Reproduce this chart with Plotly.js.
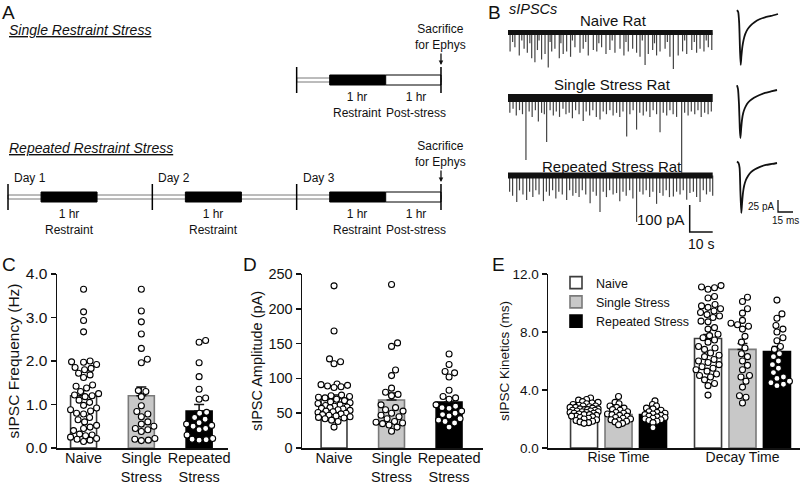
<!DOCTYPE html>
<html><head><meta charset="utf-8">
<script src="https://cdn.plot.ly/plotly-3.0.1.min.js"></script>
<style>html,body{margin:0;padding:0;background:#fff}#chart{width:800px;height:486px}</style>
</head><body><div id="chart"></div>
<script>
// ================= DATA =================
const groups = ['Naive', 'Single Stress', 'Repeated Stress'];
const groupTicks = ['Naive', 'Single<br>Stress', 'Repeated<br>Stress'];
const kineticsTicks = ['Rise Time', 'Decay Time'];

// C: sIPSC frequency (Hz), one value per cell
const freqNaive = [3.65, 3.13, 2.93, 2.67, 2.0, 1.98, 1.97, 1.92, 1.85, 1.83, 1.8, 1.72, 1.68, 1.62, 1.45, 1.42, 1.38, 1.3, 1.25, 1.22, 1.2, 1.18, 1.1, 1.05, 0.98, 0.92, 0.88, 0.85, 0.8, 0.78, 0.7, 0.65, 0.6, 0.52, 0.48, 0.45, 0.4, 0.32, 0.3, 0.28, 0.25, 0.22, 0.2, 0.18, 0.15];
const freqSingle = [3.65, 3.15, 2.9, 2.62, 2.29, 2.04, 1.96, 1.32, 1.3, 1.18, 0.97, 0.84, 0.78, 0.72, 0.6, 0.55, 0.5, 0.45, 0.42, 0.38, 0.22, 0.2, 0.18, 0.17];
const freqRepeat = [2.47, 2.43, 1.96, 1.64, 1.35, 1.15, 1.12, 0.82, 0.8, 0.7, 0.66, 0.58, 0.55, 0.52, 0.5, 0.45, 0.42, 0.3, 0.22, 0.2, 0.19, 0.18];
const freqMean = [1.2, 1.2, 0.85];
const freqSem = [0.12, 0.2, 0.15];

// D: sIPSC amplitude (pA)
const ampNaive = [233, 168, 128, 124, 121, 92, 91, 90, 89, 88, 87, 76, 75, 74, 73, 72, 70, 68, 66, 65, 64, 62, 61, 60, 59, 58, 57, 56, 55, 54, 53, 52, 51, 50, 49, 48, 47, 46, 45, 44, 43, 42, 40, 38, 30];
const ampSingle = [235, 151, 146, 112, 104, 86, 80, 77, 75, 62, 58, 55, 53, 50, 47, 45, 42, 38, 37, 36, 35, 33, 30, 24];
const ampRepeat = [135, 120, 110, 108, 102, 83, 74, 72, 70, 62, 60, 58, 57, 53, 50, 48, 46, 42, 40, 38, 36, 30];
const ampMean = [71, 69, 66];
const ampSem = [5, 10, 6];

// E: sIPSC kinetics (ms)
const riseNaive = [3.45, 3.35, 3.3, 3.2, 3.15, 3.1, 3.05, 3.0, 2.95, 2.9, 2.9, 2.85, 2.8, 2.8, 2.75, 2.7, 2.7, 2.65, 2.65, 2.6, 2.6, 2.55, 2.55, 2.5, 2.5, 2.45, 2.45, 2.4, 2.4, 2.35, 2.3, 2.3, 2.25, 2.2, 2.2, 2.15, 2.1, 2.05, 2.0, 1.95, 1.9, 1.85, 1.8, 1.75, 1.7];
const riseSingle = [3.55, 3.15, 3.05, 2.9, 2.8, 2.75, 2.65, 2.6, 2.5, 2.45, 2.4, 2.35, 2.3, 2.25, 2.2, 2.1, 2.05, 2.0, 1.95, 1.9, 1.85, 1.8, 1.7, 1.6];
const riseRepeat = [3.25, 3.0, 2.9, 2.75, 2.7, 2.6, 2.5, 2.45, 2.4, 2.35, 2.3, 2.25, 2.2, 2.15, 2.1, 2.05, 2.0, 1.95, 1.9, 1.85, 1.75, 1.4];
const decayNaive = [11.2, 11.1, 11.05, 10.95, 10.45, 10.35, 9.9, 9.8, 9.7, 9.6, 9.45, 9.35, 9.2, 9.1, 9.0, 8.75, 8.7, 8.3, 8.2, 7.85, 7.75, 7.6, 7.45, 7.3, 7.0, 6.9, 6.8, 6.55, 6.4, 6.3, 6.1, 6.0, 5.9, 5.75, 5.6, 5.5, 5.4, 5.3, 5.1, 5.0, 4.9, 4.7, 4.45, 4.3, 3.65];
const decaySingle = [10.4, 10.1, 9.6, 9.3, 8.8, 8.6, 8.5, 8.4, 8.2, 7.7, 7.3, 6.9, 6.5, 6.3, 6.0, 5.7, 5.4, 5.0, 4.9, 4.6, 4.2, 3.6, 3.5, 3.1];
const decayRepeat = [10.2, 9.25, 8.95, 8.45, 8.2, 8.0, 7.6, 7.4, 7.0, 6.8, 6.5, 6.3, 6.0, 5.75, 5.5, 5.2, 4.9, 4.8, 4.6, 4.5, 4.4, 4.3];
const riseMean = [2.6, 2.3, 2.3];
const riseSem = [0.08, 0.1, 0.1];
const decayMean = [7.55, 6.8, 6.65];
const decaySem = [0.28, 0.4, 0.35];

// A: protocol schematic (in day slots)
const dayLabels = ['Day 1', 'Day 2', 'Day 3'];
const repeatedDays = [0, 1, 2];
const singleDays = [2];
const restraintWindow = [0.229, 0.617];
const postWindow = [0.617, 1.0];
const protocolEnd = 3;

// B: raw sIPSC traces (event time s, amplitude pA)
const recordSec = 89;
const naiveT = [0.9, 2.0, 3.0, 4.9, 6.0, 7.0, 8.4, 9.5, 10.3, 11.7, 12.8, 13.5, 14.6, 16.1, 17.5, 18.3, 19.0, 20.4, 22.3, 23.0, 24.0, 25.5, 27.2, 28.0, 29.1, 31.3, 32.7, 33.8, 34.9, 37.1, 38.6, 39.5, 40.7, 42.6, 44.3, 45.3, 46.5, 48.7, 50.4, 51.3, 52.3, 54.2, 55.9, 57.4, 58.4, 59.6, 61.0, 62.9, 63.7, 64.6, 66.1, 68.3, 69.3, 70.4, 71.9, 74.0, 75.9, 76.8, 77.7, 79.9, 81.0, 82.0, 83.5, 85.2, 86.2, 87.1, 88.6];
const naiveA = [70, 35, 55, 85, 30, 60, 75, 40, 95, 110, 65, 30, 100, 80, 130, 35, 70, 60, 95, 40, 80, 70, 90, 30, 55, 75, 60, 35, 85, 65, 70, 40, 55, 80, 65, 30, 75, 60, 85, 35, 70, 60, 75, 90, 30, 120, 80, 65, 40, 85, 70, 60, 35, 90, 135, 85, 70, 30, 80, 65, 35, 75, 60, 70, 30, 55, 65];
const singleT = [0.8, 2.2, 3.6, 5, 6.3, 7.8, 9.2, 10.5, 11.9, 13.2, 14.6, 15.8, 16.8, 18.3, 19.7, 21, 22.4, 23.9, 25.2, 26.6, 28, 29.4, 30.9, 32.7, 34, 35.5, 36.9, 38.4, 40, 41.4, 42.8, 44.3, 45.7, 47.2, 48.6, 50, 51.6, 53, 54.4, 55.9, 57.3, 58.8, 60.2, 61.7, 63.1, 64.6, 66.1, 67.5, 69, 70.4, 71.8, 73.3, 75.5, 76.8, 78.3, 79.7, 81.2, 82.6, 84, 85.5, 87, 88.4];
const singleA = [55, 40, 65, 45, 60, 230, 50, 70, 45, 87, 55, 60, 163, 45, 65, 50, 70, 40, 60, 55, 75, 45, 60, 85, 50, 65, 45, 70, 80, 50, 60, 45, 65, 55, 70, 50, 143, 60, 45, 117, 55, 65, 50, 70, 45, 60, 127, 55, 65, 45, 60, 70, 277, 55, 65, 50, 60, 45, 70, 55, 60, 50];
const repeatT = [0.7, 2.0, 3.8, 5.0, 6.5, 8.1, 9.4, 10.8, 12.1, 13.5, 15.4, 16.7, 18.0, 19.4, 20.8, 22.1, 23.6, 25.5, 26.8, 28.2, 29.5, 30.9, 32.3, 33.8, 35.7, 37.0, 38.4, 40.0, 41.4, 42.8, 44.2, 45.7, 47.2, 48.6, 50.0, 51.4, 52.9, 54.3, 55.9, 57.3, 58.7, 60.1, 61.6, 63.0, 64.6, 66.0, 67.4, 68.8, 70.2, 71.9, 73.3, 74.8, 76.2, 77.7, 79.1, 80.6, 82.0, 83.5, 84.9, 86.3, 87.8, 89.0];
const repeatA = [60, 75, 98, 55, 70, 91, 60, 80, 55, 70, 95, 60, 75, 55, 85, 60, 70, 91, 55, 75, 65, 80, 55, 70, 103, 60, 75, 135, 60, 80, 55, 70, 65, 95, 60, 75, 55, 85, 172, 60, 70, 55, 80, 60, 105, 65, 75, 55, 80, 78, 60, 70, 55, 90, 65, 60, 80, 98, 55, 70, 60, 75];

// B: averaged sIPSC waveforms (ms, pA)
const naiveWaveT = [0, 1.2, 2.2, 3.0, 3.7, 4.4, 5.4, 6.6, 8.2, 10.5, 13.5, 17.5, 22.5, 28, 34, 41];
const naiveWaveI = [8, 4, -20, -75, -106, -88, -68, -54, -42, -32, -24, -17, -11, -7, -4, 0];
const singleWaveT = [0, 1.0, 2.0, 2.8, 3.4, 4.1, 5.0, 6.2, 7.8, 10, 13, 17, 22, 28, 34, 40];
const singleWaveI = [10, 2, -30, -80, -100, -82, -62, -48, -38, -29, -22, -16, -11, -6, -3, 0];
const repeatWaveT = [0, 1.5, 2.6, 3.4, 4.3, 5.0, 6.0, 7.2, 8.8, 11, 14, 18, 23, 29, 35, 40];
const repeatWaveI = [3, 0, -10, -60, -104, -85, -62, -47, -36, -27, -19, -13, -8, -4, -2, 0];

// scale bars
const rawBarPA = 100, rawBarSec = 10;
const avgBarPA = 25, avgBarMs = 15;

// ================= LAYOUT GEOMETRY =================
const W = 800, H = 486;
const fx = p => p / W;
const fy = p => 1 - p / H;
const FONT = 'Liberation Sans, Arial, Helvetica, sans-serif';
const INK = '#111111';
const barFill = ['#ffffff', '#c8c8c8', '#000000'];
const barLine = ['#3c3c3c', '#7a7a7a', '#000000'];

const pxPerDay = 144.33, rowPx = 117;
const rowY = (row, px) => row + px / rowPx;
const rawPxS = 2.3, rawPxPA = 0.27;
const rawBase = px => -px / rawPxPA;
const rawBases = [rawBase(32.5), rawBase(98), rawBase(175.5)];
const avgPxPA = 0.48;
const avgBase = px => -px / avgPxPA;
const avgBases = [avgBase(14), avgBase(90), avgBase(163)];

// beeswarm (deterministic) offsets in axis units
function swarm(values, yScale, xScale, diam, maxOff) {
  const order = values.map((v, i) => i).sort((a, b) => values[a] - values[b]);
  const placed = [];
  const offs = new Array(values.length).fill(0);
  for (const i of order) {
    const yp = values[i] * yScale;
    let chosen = null, best = 0, bestScore = -1;
    for (let k = 0; k <= maxOff * 4; k++) {
      const c = (k % 2 ? 1 : -1) * Math.ceil(k / 2) * 0.5;
      if (Math.abs(c) > maxOff) break;
      let md = Infinity;
      for (const p of placed) {
        const d = Math.hypot(p[0] - c, p[1] - yp);
        if (d < md) md = d;
      }
      if (md >= diam) { chosen = c; break; }
      if (md > bestScore) { bestScore = md; best = c; }
    }
    if (chosen === null) chosen = best;
    placed.push([chosen, yp]);
    offs[i] = chosen / xScale;
  }
  return offs;
}

const traces = [];
const markerStyle = { symbol: 'circle', size: 6, color: '#ffffff', line: { color: '#000000', width: 1.1 } };

function addPoints(pts, pos, xa, ya, yScale, xScale, diam, maxOff) {
  const off = swarm(pts, yScale, xScale, diam, maxOff);
  traces.push({
    type: 'scatter', mode: 'markers', xaxis: xa, yaxis: ya,
    x: pts.map((v, i) => pos + off[i]), y: pts,
    marker: markerStyle, showlegend: false, hoverinfo: 'skip', cliponaxis: false
  });
}

function errY(sems) {
  return { type: 'data', symmetric: false, array: sems, arrayminus: sems.map(() => 0),
           color: INK, thickness: 1.5, width: 5 };
}

[[freqMean, freqSem, 'x', 'y'], [ampMean, ampSem, 'x2', 'y2']].forEach(([m, s, xa, ya]) => {
  groups.forEach((g, gi) => {
    traces.push({
      type: 'bar', xaxis: xa, yaxis: ya, x: [gi], y: [m[gi]], width: 0.45, name: g,
      marker: { color: barFill[gi], line: { color: barLine[gi], width: 1.6 } },
      error_y: errY([s[gi]]), showlegend: false, hoverinfo: 'skip'
    });
  });
});
const eOff = [-0.278, 0, 0.278];
groups.forEach((g, gi) => {
  traces.push({
    type: 'bar', xaxis: 'x3', yaxis: 'y3', x: [0 + eOff[gi], 1 + eOff[gi]],
    y: [riseMean[gi], decayMean[gi]], width: 0.218, name: g,
    marker: { color: barFill[gi], line: { color: barLine[gi], width: 1.6 } },
    error_y: errY([riseSem[gi], decaySem[gi]]), showlegend: true, hoverinfo: 'skip'
  });
});

[freqNaive, freqSingle, freqRepeat].forEach((p, gi) => addPoints(p, gi, 'x', 'y', 43.5, 57.7, 6.6, 16));
[ampNaive, ampSingle, ampRepeat].forEach((p, gi) => addPoints(p, gi, 'x2', 'y2', 0.696, 57.5, 6.6, 16));
[riseNaive, riseSingle, riseRepeat].forEach((p, gi) => addPoints(p, 0 + eOff[gi], 'x3', 'y3', 14.5, 124, 4.2, 14));
[decayNaive, decaySingle, decayRepeat].forEach((p, gi) => addPoints(p, 1 + eOff[gi], 'x3', 'y3', 14.5, 124, 6.6, 17));

// B raw traces
[[naiveT, naiveA], [singleT, singleA], [repeatT, repeatA]].forEach(([t, a], k) => {
  const base = rawBases[k];
  const sx = [], sy = [];
  t.forEach((v, i) => { sx.push(v, v, null); sy.push(base, base - a[i], null); });
  traces.push({ type: 'scatter', mode: 'lines', xaxis: 'x5', yaxis: 'y5', x: sx, y: sy,
    line: { color: '#444444', width: 1.2 }, showlegend: false, hoverinfo: 'skip' });
  traces.push({ type: 'scatter', mode: 'lines', xaxis: 'x5', yaxis: 'y5',
    x: [0, recordSec], y: [base, base],
    line: { color: '#111111', width: [5, 8, 6][k] }, showlegend: false, hoverinfo: 'skip' });
});
const sbX = recordSec - rawBarSec, sbY = rawBase(232);
traces.push({ type: 'scatter', mode: 'lines', xaxis: 'x5', yaxis: 'y5',
  x: [sbX, sbX, sbX + rawBarSec], y: [sbY + rawBarPA, sbY, sbY],
  line: { color: INK, width: 1.5 }, showlegend: false, hoverinfo: 'skip' });

[[naiveWaveT, naiveWaveI], [singleWaveT, singleWaveI], [repeatWaveT, repeatWaveI]].forEach(([t, v], k) => {
  traces.push({ type: 'scatter', mode: 'lines', xaxis: 'x6', yaxis: 'y6', x: t,
    y: v.map(q => q + avgBases[k]), line: { color: '#111111', width: 1.8, shape: 'spline', smoothing: 0.6 },
    showlegend: false, hoverinfo: 'skip' });
});
const abX = 41, abY = avgBase(212);
traces.push({ type: 'scatter', mode: 'lines', xaxis: 'x6', yaxis: 'y6',
  x: [abX, abX, abX + avgBarMs], y: [abY + avgBarPA, abY, abY],
  line: { color: INK, width: 1.3 }, showlegend: false, hoverinfo: 'skip' });

// ================= SHAPES (panel A) =================
const shapes = [];
function rail(d0, d1, row) {
  shapes.push({ type: 'rect', xref: 'x4', yref: 'y4', x0: d0, x1: d1, y0: rowY(row, -2), y1: rowY(row, 2),
    fillcolor: '#ffffff', line: { color: '#555555', width: 0.8 } });
}
function block(d0, d1, row, fill) {
  shapes.push({ type: 'rect', xref: 'x4', yref: 'y4', x0: d0, x1: d1, y0: rowY(row, -5), y1: rowY(row, 5),
    fillcolor: fill, line: { color: '#000000', width: 1 } });
}
function tick(d, row) {
  shapes.push({ type: 'line', xref: 'x4', yref: 'y4', x0: d, x1: d, y0: rowY(row, -13), y1: rowY(row, 13),
    line: { color: '#000000', width: 1.5 } });
}
rail(singleDays[0], protocolEnd, 1);
singleDays.forEach(d => block(d + restraintWindow[0], d + restraintWindow[1], 1, '#000000'));
block(protocolEnd - 1 + postWindow[0], protocolEnd - 1 + postWindow[1], 1, '#ffffff');
tick(singleDays[0], 1); tick(protocolEnd, 1);
rail(repeatedDays[0], protocolEnd, 2);
repeatedDays.forEach(d => block(d + restraintWindow[0], d + restraintWindow[1], 2, '#000000'));
block(protocolEnd - 1 + postWindow[0], protocolEnd - 1 + postWindow[1], 2, '#ffffff');
repeatedDays.forEach(d => tick(d, 2)); tick(protocolEnd, 2);

// ================= ANNOTATIONS =================
const ann = [];
const txt = (o) => ann.push(Object.assign({ showarrow: false, font: { family: FONT, size: 12, color: INK } }, o));
[['A', 8, 0], ['B', 494, 0], ['C', 9, 252], ['D', 250, 252], ['E', 498, 252]].forEach(([l, x, y]) =>
  txt({ text: l, xref: 'paper', yref: 'paper', x: fx(x), y: fy(y), xanchor: 'center', yanchor: 'top',
        font: { family: FONT, size: 19, color: INK } }));
[['Single Restraint Stress', 30], ['Repeated Restraint Stress', 148]].forEach(([t, y]) =>
  txt({ text: '<i>' + t + '</i>', xref: 'paper', yref: 'paper', x: fx(7), y: fy(y), xanchor: 'left', yanchor: 'middle',
        font: { family: FONT, size: 14, color: INK, lineposition: 'under' } }));
const restraintMid = (restraintWindow[0] + restraintWindow[1]) / 2;
const postMid = (postWindow[0] + postWindow[1]) / 2;
singleDays.forEach(d => txt({ text: '1 hr<br>Restraint', xref: 'x4', yref: 'y4', x: d + restraintMid, y: 1,
  yanchor: 'top', yshift: -8 }));
repeatedDays.forEach(d => txt({ text: '1 hr<br>Restraint', xref: 'x4', yref: 'y4', x: d + restraintMid, y: 2,
  yanchor: 'top', yshift: -8 }));
[1, 2].forEach(r => txt({ text: '1 hr<br>Post-stress', xref: 'x4', yref: 'y4', x: protocolEnd - 1 + postMid + 0.02, y: r,
  yanchor: 'top', yshift: -8 }));
repeatedDays.forEach((d, i) => txt({ text: dayLabels[i], xref: 'x4', yref: 'y4', x: d, y: 2, xanchor: 'left',
  yanchor: 'bottom', xshift: 4, yshift: 10 }));
[1, 2].forEach(r => ann.push({ text: 'Sacrifice<br>for Ephys', xref: 'x4', yref: 'y4', x: protocolEnd, y: r,
  yshift: 15, showarrow: true, ax: 0, ay: -28, arrowhead: 2, arrowsize: 0.7, arrowwidth: 1.3, arrowcolor: INK,
  font: { family: FONT, size: 12, color: INK } }));
txt({ text: '<i>sIPSCs</i>', xref: 'paper', yref: 'paper', x: fx(507), y: fy(9), xanchor: 'left', yanchor: 'middle',
      font: { family: FONT, size: 14.5, color: INK } });
[['Naive Rat', 613, 20], ['Single Stress Rat', 612, 84], ['Repeated Stress Rat', 612, 166]].forEach(([t, x, y]) =>
  txt({ text: t, xref: 'paper', yref: 'paper', x: fx(x), y: fy(y), xanchor: 'center', yanchor: 'middle',
        font: { family: FONT, size: 15, color: INK } }));
txt({ text: rawBarPA + ' pA', xref: 'x5', yref: 'y5', x: sbX, y: sbY + rawBarPA * 0.45, xanchor: 'right', xshift: -3,
      yanchor: 'middle', font: { family: FONT, size: 15, color: INK } });
txt({ text: rawBarSec + ' s', xref: 'x5', yref: 'y5', x: sbX + rawBarSec / 2, y: sbY, yanchor: 'top', yshift: -2,
      font: { family: FONT, size: 14, color: INK } });
txt({ text: avgBarPA + ' pA', xref: 'x6', yref: 'y6', x: abX, y: abY + avgBarPA * 0.45, xanchor: 'right', xshift: -2,
      yanchor: 'middle', font: { family: FONT, size: 10, color: INK } });
txt({ text: avgBarMs + ' ms', xref: 'x6', yref: 'y6', x: abX + avgBarMs / 2, y: abY, yanchor: 'top', yshift: -1,
      font: { family: FONT, size: 10, color: INK } });

// ================= AXES =================
function xAx(l, r, range, tickvals, ticktext, size, anchor) {
  return { domain: [fx(l), fx(r)], range, anchor, tickvals, ticktext, ticks: '', showline: true,
    linecolor: INK, linewidth: 1.5, showgrid: false, zeroline: false, fixedrange: true,
    ticklabelstandoff: -4,
    tickfont: { family: FONT, size, color: INK } };
}
function yAx(range, dtick, fmt, size, title, tsize, standoff, anchor) {
  return { domain: [fy(448), fy(274)], range, dtick, tick0: 0, tickformat: fmt, anchor,
    showline: true, linecolor: INK, linewidth: 1.5, ticks: 'outside', ticklen: 5, tickwidth: 1.5,
    tickcolor: INK, showgrid: false, zeroline: false, fixedrange: true,
    tickfont: { family: FONT, size, color: INK },
    title: { text: title, standoff, font: { family: FONT, size: tsize, color: INK } } };
}
const hidden = (dom, range) => ({ domain: dom, range, visible: false, showgrid: false, zeroline: false, fixedrange: true });

const layout = {
  width: W, height: H, margin: { l: 0, r: 0, t: 0, b: 0 },
  paper_bgcolor: '#ffffff', plot_bgcolor: 'rgba(0,0,0,0)',
  barmode: 'overlay', font: { family: FONT, color: INK },
  xaxis: xAx(57, 228, [-0.46, 2.5], [0, 1, 2], groupTicks, 14.5, 'y'),
  yaxis: yAx([0, 4], 1, '.1f', 15.5, 'sIPSC Frequency (Hz)', 15.5, 2, 'x'),
  xaxis2: xAx(302, 483, [-0.557, 2.59], [0, 1, 2], groupTicks, 14.5, 'y2'),
  yaxis2: yAx([0, 250], 50, 'd', 14.5, 'sIPSC Amplitude (pA)', 14.5, 2, 'x2'),
  xaxis3: xAx(548, 800, [-0.569, 1.464], [0, 1], kineticsTicks, 14, 'y3'),
  yaxis3: yAx([0, 12], 4, '.1f', 13.5, 'sIPSC Kinetics (ms)', 13.5, 0, 'x3'),
  xaxis4: Object.assign(hidden([fx(0), fx(470)], [-8 / pxPerDay, (470 - 8) / pxPerDay]), { anchor: 'y4' }),
  yaxis4: Object.assign(hidden([fy(240), fy(0)], [1 + 160 / rowPx, 1 - 80 / rowPx]), { anchor: 'x4' }),
  xaxis5: Object.assign(hidden([fx(500), fx(725)], [-8 / rawPxS, 217 / rawPxS]), { anchor: 'y5' }),
  yaxis5: Object.assign(hidden([fy(245), fy(0)], [-245 / rawPxPA, 0]), { anchor: 'x5' }),
  xaxis6: Object.assign(hidden([fx(727), fx(800)], [-10, 63]), { anchor: 'y6' }),
  yaxis6: Object.assign(hidden([fy(245), fy(0)], [-245 / avgPxPA, 0]), { anchor: 'x6' }),
  showlegend: true,
  legend: { x: fx(556), y: fy(268), xanchor: 'left', yanchor: 'top', bgcolor: 'rgba(0,0,0,0)',
            font: { family: FONT, size: 12.5, color: INK }, itemwidth: 30, tracegroupgap: 0 },
  shapes, annotations: ann
};

Plotly.newPlot('chart', traces, layout, { displayModeBar: false, staticPlot: true });
</script>
</body></html>
